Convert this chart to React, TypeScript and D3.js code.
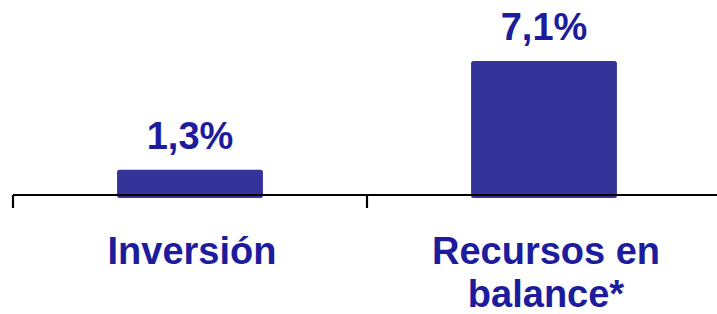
import { useEffect, useRef } from "react";
import * as d3 from "d3";

const categories = ["Inversión", "Recursos en balance*"];
const categoryLines = [["Inversión"], ["Recursos en", "balance*"]];
const values = [1.3, 7.1];
const valueLabels = ["1,3%", "7,1%"];

const W = 717;
const H = 314;
const BAR = "#333399";
const TEXT = "#1c1c9c";
const FONT = "'Liberation Sans', Arial, sans-serif";

export default function App() {
  const ref = useRef<SVGSVGElement | null>(null);

  useEffect(() => {
    if (!ref.current) return;
    const svg = d3.select(ref.current);
    svg.selectAll("*").remove();

    const x = d3.scaleBand<string>().domain(categories).range([13, 721]).padding(0);
    const y = d3.scaleLinear().domain([0, 7.1]).range([194, 61]);
    const barW = x.bandwidth() * 0.412;

    const g = svg.append("g");

    // barras
    g.selectAll("rect.bar")
      .data(values)
      .join("rect")
      .attr("class", "bar")
      .attr("x", (_d, i) => x(categories[i])! + x.bandwidth() / 2 - barW / 2)
      .attr("y", (d) => y(d))
      .attr("width", barW)
      .attr("height", (d) => y(0) - y(d) + 4)
      .attr("rx", 2.5)
      .attr("fill", BAR);

    // eje
    g.append("line")
      .attr("x1", 13)
      .attr("x2", W)
      .attr("y1", y(0) + 1)
      .attr("y2", y(0) + 1)
      .attr("stroke", "#000")
      .attr("stroke-width", 2.2);

    g.selectAll("line.tick")
      .data(categories)
      .join("line")
      .attr("class", "tick")
      .attr("x1", (d) => x(d)!)
      .attr("x2", (d) => x(d)!)
      .attr("y1", y(0) + 1)
      .attr("y2", y(0) + 14)
      .attr("stroke", "#000")
      .attr("stroke-width", 2.2);

    // etiquetas de valor
    g.selectAll("text.val")
      .data(values)
      .join("text")
      .attr("class", "val")
      .attr("x", (_d, i) => x(categories[i])! + x.bandwidth() / 2)
      .attr("y", (d) => y(d) - 21)
      .attr("text-anchor", "middle")
      .attr("font-family", FONT)
      .attr("font-weight", "bold")
      .attr("font-size", 38)
      .attr("fill", TEXT)
      .text((_d, i) => valueLabels[i]);

    // etiquetas de categoría
    const cat = g
      .selectAll("text.cat")
      .data(categories)
      .join("text")
      .attr("class", "cat")
      .attr("text-anchor", "middle")
      .attr("font-family", FONT)
      .attr("font-weight", "bold")
      .attr("font-size", 38)
      .attr("fill", TEXT);

    cat
      .selectAll("tspan")
      .data((_d, i) => categoryLines[i].map((t) => ({ t, i })))
      .join("tspan")
      .attr("x", (d) => x(categories[d.i])! + x.bandwidth() / 2 + 2)
      .attr("y", (_d, j) => 264 + j * 43)
      .text((d) => d.t);
  }, []);

  return (
    <svg
      ref={ref}
      width={W}
      height={H}
      viewBox={`0 0 ${W} ${H}`}
      style={{ position: "fixed", left: 0, top: 0, background: "#fff", display: "block" }}
    />
  );
}
